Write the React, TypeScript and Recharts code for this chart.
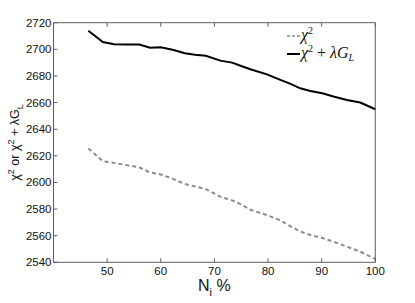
import React from 'react';
import { LineChart, Line, XAxis, YAxis } from 'recharts';

const nPercent = [46.5, 49.2, 51.3, 53.6, 56.0, 58.0, 60.0, 62.4, 64.5, 66.4, 68.4, 71.1, 73.3, 75.0, 76.7, 79.8, 82.3, 84.2, 86.0, 87.9, 90.1, 92.2, 94.7, 97.2, 100];
const chiSq = [2625.5, 2616, 2614.7, 2613, 2611.3, 2607.5, 2606, 2602.5, 2598.8, 2597, 2595, 2589.3, 2586.5, 2583.5, 2579.5, 2575.5, 2571.5, 2567, 2563.2, 2560.5, 2558.3, 2555.5, 2551.7, 2548, 2542.5];
const chiSqReg = [2714, 2705.5, 2703.8, 2703.6, 2703.6, 2701.2, 2701.5, 2699.5, 2697, 2696, 2695.2, 2691.5, 2690, 2687.5, 2685, 2681.2, 2677, 2674, 2670.7, 2668.7, 2667, 2664.5, 2662, 2660, 2655];
const xTicks = [50, 60, 70, 80, 90, 100];
const yTicks = [2540, 2560, 2580, 2600, 2620, 2640, 2660, 2680, 2700, 2720];

const data = nPercent.map((n, i) => ({ n, chi: chiSq[i], reg: chiSqReg[i] }));

const FRAME = '#5e5e5e';
const SANS = 'Liberation Sans, Arial, Helvetica, sans-serif';
const SERIF = 'Liberation Serif, Times New Roman, serif';
const TL = 4;

const BottomTick = (p: any) => (
  <g>
    <line x1={p.x} x2={p.x} y1={p.y - 13} y2={p.y - 13 - TL} stroke={FRAME} strokeWidth={1} />
    <text x={p.x} y={p.y} textAnchor="middle" fontSize={11.5} fontFamily={SANS} fill="#111">{p.payload.value}</text>
  </g>
);
const LeftTick = (p: any) => (
  <g>
    <line x1={p.x + 2} x2={p.x + 2 + TL} y1={p.y} y2={p.y} stroke={FRAME} strokeWidth={1} />
    <text x={p.x} y={p.y} dy={4} textAnchor="end" fontSize={11.5} fontFamily={SANS} fill="#111">{p.payload.value}</text>
  </g>
);
const TopTick = (p: any) => (
  <line x1={p.x} x2={p.x} y1={p.y} y2={p.y + TL} stroke={FRAME} strokeWidth={1} />
);
const RightTick = (p: any) => (
  <line x1={p.x} x2={p.x - TL} y1={p.y} y2={p.y} stroke={FRAME} strokeWidth={1} />
);

const XLabel = (p: any) => {
  const vb = p.viewBox || { x: 0, y: 0, width: 0, height: 0 };
  const cx = vb.x + vb.width / 2;
  return (
    <text x={cx} y={vb.y + 29} textAnchor="middle" fontFamily={SANS} fontSize={16} fill="#111">
      N<tspan fontSize={11} dy={5}>i</tspan><tspan dy={-5}> %</tspan>
    </text>
  );
};

const YLabel = (p: any) => {
  const vb = p.viewBox || { x: 0, y: 0, width: 0, height: 0 };
  const cy = vb.y + vb.height / 2;
  const x = 18.5;
  return (
    <text x={x} y={cy} transform={`rotate(-90, ${x}, ${cy})`} textAnchor="middle" fontFamily={SANS} fontSize={12.5} fill="#111">
      χ<tspan fontSize={9} dy={-5}>2</tspan><tspan dy={5}> or χ</tspan><tspan fontSize={9} dy={-5}>2</tspan><tspan dy={5}> + λG</tspan><tspan fontSize={9} dy={4}>L</tspan>
    </text>
  );
};

const supStyle: React.CSSProperties = { fontSize: 10, fontStyle: 'normal', position: 'relative', top: -6 };
const subStyle: React.CSSProperties = { fontSize: 10, position: 'relative', top: 3 };

export default function App() {
  return (
    <div style={{ position: 'absolute', left: 0, top: 0, width: 415, height: 303, background: '#fff' }}>
      <LineChart width={415} height={303} data={data} margin={{ top: 21.7, right: 38.7, bottom: 0, left: 0 }}>
        <XAxis
          dataKey="n" type="number" domain={[40, 100]} ticks={xTicks} interval={0}
          height={40.7} tickSize={0} tickMargin={13} tickLine={false}
          axisLine={{ stroke: FRAME }} tick={<BottomTick />} label={<XLabel />}
        />
        <XAxis
          xAxisId="top" orientation="top" dataKey="n" type="number" domain={[40, 100]} ticks={xTicks} interval={0}
          height={1} tickSize={0} tickMargin={0} tickLine={false}
          axisLine={{ stroke: FRAME }} tick={<TopTick />}
        />
        <YAxis
          type="number" domain={[2540, 2720]} ticks={yTicks} interval={0}
          width={53.5} tickSize={0} tickMargin={2} tickLine={false}
          axisLine={{ stroke: FRAME }} tick={<LeftTick />} label={<YLabel />}
        />
        <YAxis
          yAxisId="right" orientation="right" type="number" domain={[2540, 2720]} ticks={yTicks} interval={0}
          width={1} tickSize={0} tickMargin={0} tickLine={false}
          axisLine={{ stroke: FRAME }} tick={<RightTick />}
        />
        <Line dataKey="chi" stroke="#8a8a8a" strokeWidth={2} strokeDasharray="4 3" dot={false} isAnimationActive={false} />
        <Line dataKey="reg" stroke="#000" strokeWidth={2} dot={false} isAnimationActive={false} />
      </LineChart>
      <div style={{ position: 'absolute', left: 287, top: 26.5, fontFamily: SERIF, fontStyle: 'italic', fontSize: 16, color: '#111', whiteSpace: 'nowrap' }}>
        <div style={{ display: 'flex', alignItems: 'center', height: 18 }}>
          <svg width={13} height={4} style={{ marginRight: 1 }}><line x1={0} x2={13} y1={2} y2={2} stroke="#8a8a8a" strokeWidth={1.5} strokeDasharray="3 2" /></svg>
          <span style={{ lineHeight: '18px' }}>χ<span style={supStyle}>2</span></span>
        </div>
        <div style={{ display: 'flex', alignItems: 'center', height: 18 }}>
          <svg width={13} height={4} style={{ marginRight: 1 }}><line x1={0} x2={13} y1={2} y2={2} stroke="#000" strokeWidth={2} /></svg>
          <span style={{ lineHeight: '18px' }}>χ<span style={supStyle}>2</span><span style={{ fontStyle: 'normal' }}> + </span>λG<span style={subStyle}>L</span></span>
        </div>
      </div>
    </div>
  );
}
